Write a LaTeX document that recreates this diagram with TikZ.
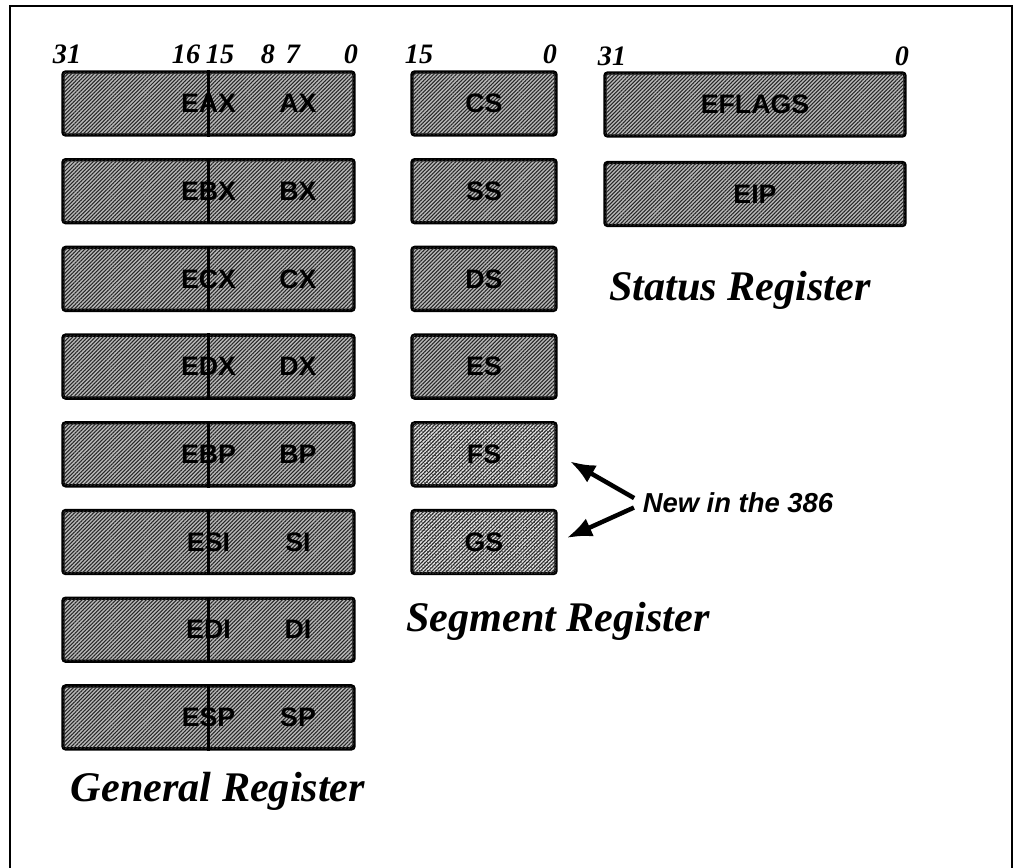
\documentclass[tikz,border=0pt]{standalone}
\usepackage{fontspec}
\setmainfont{Liberation Serif}
\setsansfont{Liberation Sans}
\usepackage{tikz}
\usetikzlibrary{arrows.meta, patterns.meta}
\tikzset{reg/.style={draw, line width=2.4pt, rounded corners=2pt, minimum height=1.575cm, fill=gray!55, postaction={pattern={Lines[angle=45, distance=1.9pt, line width=0.75pt]}, pattern color=black!85}},
  newreg/.style={reg, fill=gray!20, postaction={pattern={Dots[distance=1.9pt, radius=0.42pt]}, pattern color=black!75}},
  regtext/.style={font=\sffamily\bfseries\fontsize{19}{21}\selectfont, inner sep=1pt},
  bitno/.style={font=\rmfamily\bfseries\itshape\fontsize{20}{22}\selectfont, inner sep=0pt},
  title/.style={font=\rmfamily\bfseries\itshape\fontsize{30}{34}\selectfont},
  divline/.style={line width=2pt},
  newarrow/.style={line width=3.2pt, -{Latex[length=18pt, width=14pt]}}}
\newcommand{\genreg}[4]{\node[reg, minimum width=7.275cm] (#1) at (208.5,#2) {};
\draw[divline] (#1.north) -- (#1.south);
\node[regtext] (#1lo) at (208.5,#2) {#3};
\node[regtext] (#1hi) at (298,#2) {#4};}
\newcommand{\segreg}[4]{\node[#4, minimum width=3.6cm] (#1) at (484,#2) {};
\node[regtext] (#1t) at (#1.center) {#3};}

\begin{document}
\begin{tikzpicture}[x=0.025cm, y=-0.025cm]
\useasboundingbox (0,0) rectangle (1016,867);
\draw[line width=1.4pt] (10,875) -- (10,6) -- (1012,6) -- (1012,875);
% bit numbers
\node[bitno] (b31) at (67,54) {31};
\node[bitno] (b16) at (186,54) {16};
\node[bitno] (b15) at (220,54) {15};
\node[bitno] (b8) at (268,54) {8};
\node[bitno] (b7) at (293,54) {7};
\node[bitno] (b0) at (351,54) {0};
\node[bitno] (s15) at (419,54) {15};
\node[bitno] (s0) at (550,54) {0};
\node[bitno] (f31) at (612,56) {31};
\node[bitno] (f0) at (902,56) {0};
% general registers
\genreg{eax}{103.5}{EAX}{AX}
\genreg{ebx}{191.2}{EBX}{BX}
\genreg{ecx}{278.9}{ECX}{CX}
\genreg{edx}{366.6}{EDX}{DX}
\genreg{ebp}{454.3}{EBP}{BP}
\genreg{esi}{542}{ESI}{SI}
\genreg{edi}{629.7}{EDI}{DI}
\genreg{esp}{717.4}{ESP}{SP}
\node[title] (gen) at (218,791) {General Register};
% segment registers
\segreg{cs}{103.5}{CS}{reg}
\segreg{ss}{191.2}{SS}{reg}
\segreg{ds}{278.9}{DS}{reg}
\segreg{es}{366.6}{ES}{reg}
\segreg{fs}{454.3}{FS}{newreg}
\segreg{gs}{542}{GS}{newreg}
\node[title] (seg) at (558,621) {Segment Register};
% status registers
\node[reg, minimum width=7.5cm] (eflags) at (755,104.5) {};
\node[regtext] (eflagst) at (eflags.center) {EFLAGS};
\node[reg, minimum width=7.5cm] (eip) at (755,194) {};
\node[regtext] (eipt) at (eip.center) {EIP};
\node[title] (stat) at (740,290) {Status Register};
\node[font=\sffamily\bfseries\itshape\fontsize{19.5}{22}\selectfont] (new) at (738,503) {New in the 386};
\draw[newarrow, shorten <=3pt, shorten >=10pt] ([yshift=2pt]new.west) -- (fs.east);
\draw[newarrow, shorten <=3pt, shorten >=7pt] ([yshift=-2pt]new.west) -- (gs.east);
\end{tikzpicture}
\end{document}
